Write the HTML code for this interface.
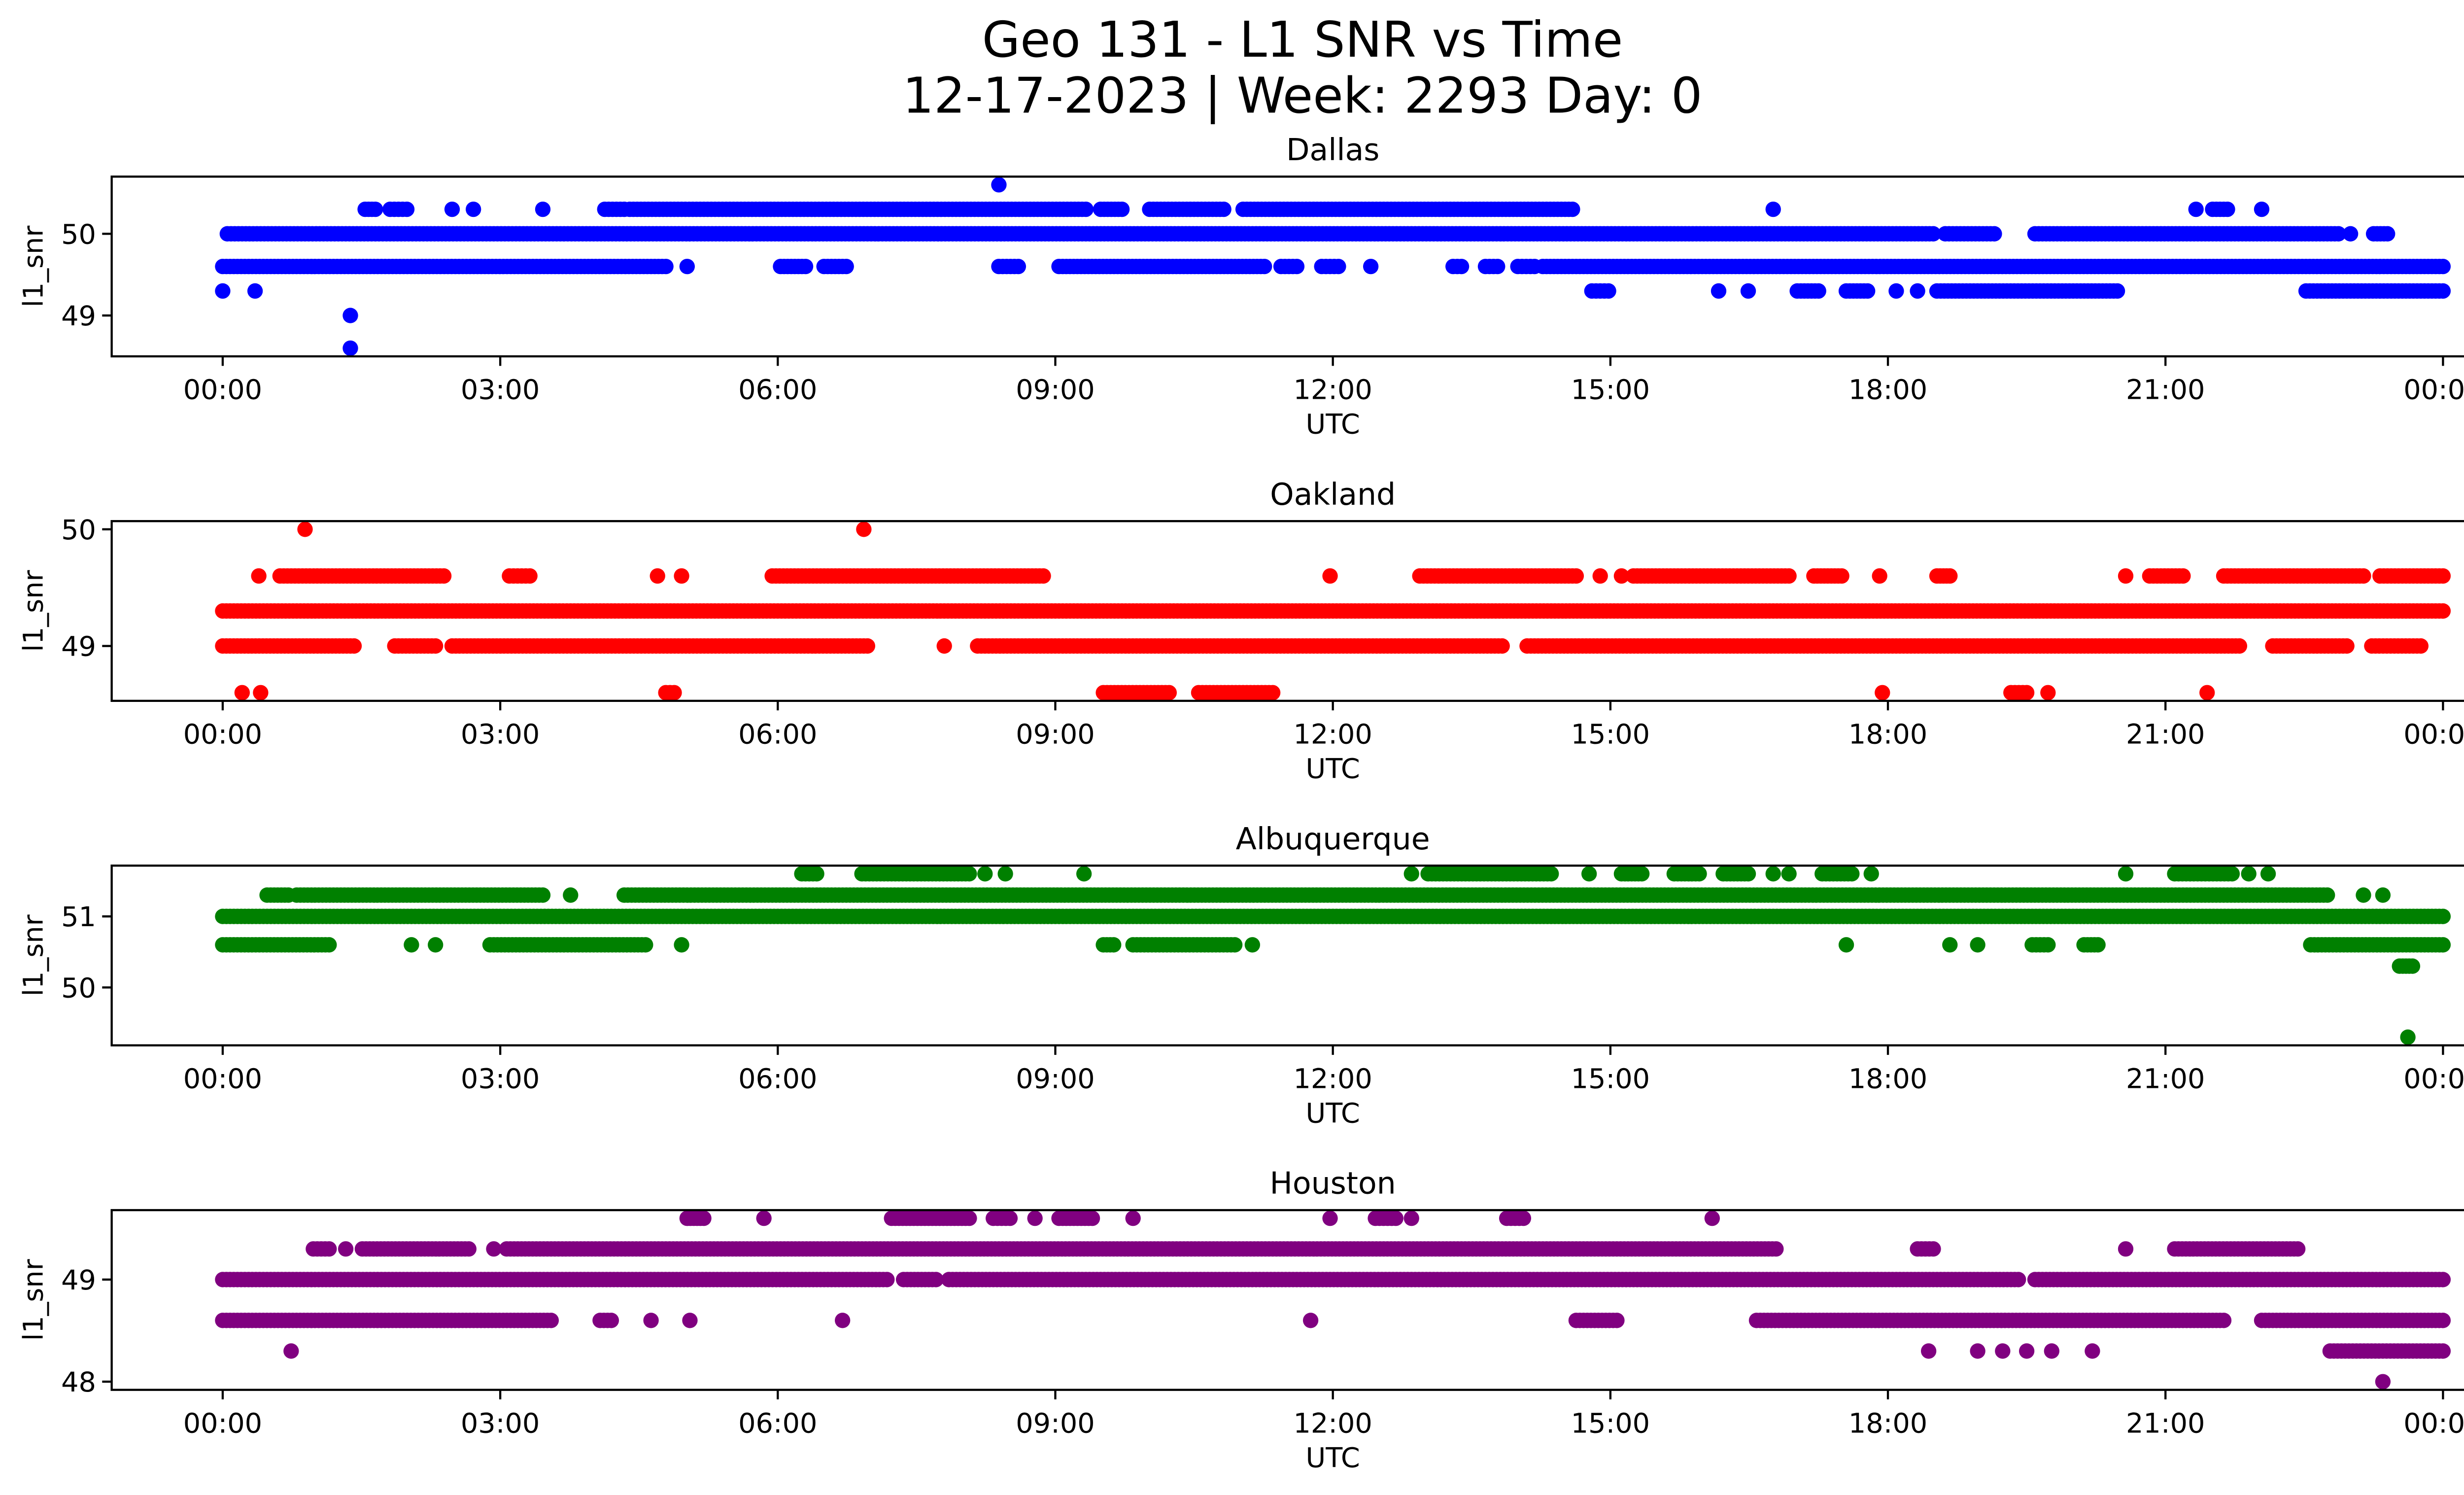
<!DOCTYPE html>
<html><head><meta charset="utf-8"><style>
html,body{margin:0;padding:0;background:#fff}
svg{display:block}
text{font-family:"DejaVu Sans","Liberation Sans",sans-serif;fill:#000}
</style></head><body>
<svg id="fig" xmlns="http://www.w3.org/2000/svg" width="5226" height="3033" viewBox="0 0 1568 910">
<rect width="1568" height="910" fill="#fff"/>
<text x="793" y="34.5" font-size="30" text-anchor="middle">Geo 131 - L1 SNR vs Time</text>
<text x="793" y="68.5" font-size="30" text-anchor="middle">12-17-2023 | Week: 2293 Day: 0</text>
<g id="plots"></g>
</svg>
<script>
// runs: [snr, startHour, endHour]
const dallasRuns = [
[50.6,8.39,8.39],
[50.3,1.54,1.65],[50.3,1.81,1.99],[50.3,2.48,2.48],[50.3,2.71,2.71],[50.3,3.46,3.46],[50.3,4.13,4.34],[50.3,4.40,9.33],[50.3,9.49,9.72],[50.3,10.02,10.82],[50.3,11.03,14.59],[50.3,16.76,16.76],[50.3,21.33,21.33],[50.3,21.51,21.67],[50.3,22.04,22.04],
[50.0,0.05,18.49],[50.0,18.62,19.15],[50.0,19.59,22.87],[50.0,23.0,23.0],[50.0,23.25,23.4],
[49.6,0,4.79],[49.6,5.02,5.02],[49.6,6.03,6.3],[49.6,6.5,6.74],[49.6,8.39,8.6],[49.6,9.04,11.26],[49.6,11.44,11.61],[49.6,11.88,12.06],[49.6,12.41,12.41],[49.6,13.3,13.39],[49.6,13.65,13.78],[49.6,14.0,14.18],[49.6,14.27,24.0],
[49.3,0,0],[49.3,0.35,0.35],[49.3,14.8,14.98],[49.3,16.17,16.17],[49.3,16.49,16.49],[49.3,17.02,17.25],[49.3,17.55,17.78],[49.3,18.09,18.09],[49.3,18.32,18.32],[49.3,18.53,20.48],[49.3,22.52,24.0],
[49.0,1.38,1.38],[48.6,1.38,1.38]
];
const oaklandRuns = [
[50.0,0.89,0.89],[50.0,6.93,6.93],
[49.6,0.39,0.39],[49.6,0.62,2.39],[49.6,3.1,3.32],[49.6,4.7,4.7],[49.6,4.96,4.96],[49.6,5.94,8.87],[49.6,11.97,11.97],[49.6,12.94,14.63],[49.6,14.89,14.89],[49.6,15.12,15.12],[49.6,15.25,16.93],[49.6,17.2,17.5],[49.6,17.91,17.91],[49.6,18.53,18.67],[49.6,20.57,20.57],[49.6,20.83,21.19],[49.6,21.63,23.14],[49.6,23.32,24.0],
[49.3,0,24.0],
[49.0,0,1.42],[49.0,1.86,2.3],[49.0,2.48,6.97],[49.0,7.8,7.8],[49.0,8.16,13.83],[49.0,14.1,21.8],[49.0,22.16,22.96],[49.0,23.23,23.76],
[48.6,0.21,0.21],[48.6,0.41,0.41],[48.6,4.79,4.88],[48.6,9.52,10.23],[48.6,10.55,11.35],[48.6,17.94,17.94],[48.6,19.33,19.5],[48.6,19.73,19.73],[48.6,21.45,21.45]
];
const albuquerqueRuns = [
[51.6,6.26,6.42],[51.6,6.91,8.07],[51.6,8.24,8.24],[51.6,8.46,8.46],[51.6,9.31,9.31],[51.6,12.85,12.85],[51.6,13.03,14.36],[51.6,14.77,14.77],[51.6,15.12,15.34],[51.6,15.69,15.96],[51.6,16.22,16.49],[51.6,16.76,16.76],[51.6,16.93,16.93],[51.6,17.29,17.61],[51.6,17.82,17.82],[51.6,20.57,20.57],[51.6,21.1,21.72],[51.6,21.9,21.9],[51.6,22.11,22.11],
[51.3,0.48,0.71],[51.3,0.8,3.46],[51.3,3.76,3.76],[51.3,4.34,22.75],[51.3,23.14,23.14],[51.3,23.35,23.35],
[51.0,0,24.0],
[50.6,0,1.15],[50.6,2.04,2.04],[50.6,2.3,2.3],[50.6,2.89,4.57],[50.6,4.96,4.96],[50.6,9.52,9.63],[50.6,9.84,10.94],[50.6,11.13,11.13],[50.6,17.55,17.55],[50.6,18.67,18.67],[50.6,18.97,18.97],[50.6,19.56,19.73],[50.6,20.12,20.27],[50.6,22.57,24.0],
[50.3,23.53,23.67],
[49.3,23.62,23.62]
];
const houstonRuns = [
[49.6,5.02,5.2],[49.6,5.85,5.85],[49.6,7.23,8.07],[49.6,8.33,8.51],[49.6,8.78,8.78],[49.6,9.04,9.4],[49.6,9.84,9.84],[49.6,11.97,11.97],[49.6,12.46,12.68],[49.6,12.85,12.85],[49.6,13.88,14.06],[49.6,16.1,16.1],
[49.3,0.98,1.15],[49.3,1.33,1.33],[49.3,1.51,2.66],[49.3,2.93,2.93],[49.3,3.07,16.79],[49.3,18.32,18.49],[49.3,20.57,20.57],[49.3,21.1,22.43],
[49.0,0,7.18],[49.0,7.36,7.71],[49.0,7.85,19.41],[49.0,19.59,24.0],
[48.6,0,3.55],[48.6,4.08,4.2],[48.6,4.63,4.63],[48.6,5.05,5.05],[48.6,6.7,6.7],[48.6,11.76,11.76],[48.6,14.63,15.07],[48.6,16.58,21.63],[48.6,22.04,24.0],
[48.3,0.74,0.74],[48.3,18.44,18.44],[48.3,18.97,18.97],[48.3,19.24,19.24],[48.3,19.5,19.5],[48.3,19.77,19.77],[48.3,20.21,20.21],[48.3,22.78,24.0],
[48.0,23.35,23.35]
];
const xTickHours = [0,3,6,9,12,15,18,21,24];
const xTickLabels = ["00:00","03:00","06:00","09:00","12:00","15:00","18:00","21:00","00:00"];
const dallasTicks = [49,50];
const oaklandTicks = [49,50];
const albuquerqueTicks = [50,51];
const houstonTicks = [48,49];
const stationNames = ["Dallas","Oakland","Albuquerque","Houston"];

const NS="http://www.w3.org/2000/svg";
const plots=document.getElementById('plots');
function mk(tag,attrs,parent){const e=document.createElementNS(NS,tag);for(const k in attrs)e.setAttribute(k,attrs[k]);parent.appendChild(e);return e;}
const X0=68,X1=1555,H=109.4;
const xMin=-1.2,xMax=25.2;
function xs(h){return X0+(h-xMin)/(xMax-xMin)*(X1-X0);}

function drawPanel(idx,name,runs,ticks,color,top){
  const g=mk('g',{},plots);
  
  
  let lo=Infinity,hi=-Infinity;
  runs.forEach(r=>{lo=Math.min(lo,r[0]);hi=Math.max(hi,r[0]);});
  const pad=(hi-lo)*0.05, yMin=lo-pad, yMax=hi+pad;
  const ys=v=>top+H-(v-yMin)/(yMax-yMin)*H;
  const bottom=top+H;
  // points
  const pg=mk('g',{fill:color},g);
  
  
  runs.forEach(r=>{
    const step=0.04;
    const n=Math.max(0,Math.round((r[2]-r[1])/step));
    for(let i=0;i<=n;i++){
      const h=n===0?r[1]:r[1]+(r[2]-r[1])*i/n;
      const c=mk('circle',{cx:xs(h).toFixed(2),cy:ys(r[0]).toFixed(2),r:4.7},pg);
      
      
    }
  });
  const box=mk('rect',{x:X0,y:top,width:X1-X0,height:H,fill:'none',stroke:'#000','stroke-width':1.3},g);
  
  
  // x ticks
  xTickHours.forEach((h,i)=>{
    const x=xs(h);
    mk('line',{x1:x,y1:bottom,x2:x,y2:bottom+5.8,stroke:'#000','stroke-width':1.3},g);
    const t=mk('text',{x:x,y:bottom+26,'font-size':16.7,'text-anchor':'middle'},g);
    t.textContent=xTickLabels[i];
    
    
  });
  // y ticks
  ticks.forEach(v=>{
    const y=ys(v);
    mk('line',{x1:X0-5.8,y1:y,x2:X0,y2:y,stroke:'#000','stroke-width':1.3},g);
    const t=mk('text',{x:X0-9.5,y:y+6,'font-size':16.7,'text-anchor':'end'},g);
    t.textContent=String(v);
    
    
  });
  const xl=mk('text',{x:(X0+X1)/2,y:bottom+47,'font-size':16.7,'text-anchor':'middle'},g);
  xl.textContent='UTC';
  
  
  const yl=mk('text',{x:0,y:0,'font-size':16.7,'text-anchor':'middle',transform:`translate(26,${top+H/2}) rotate(-90)`},g);
  yl.textContent='l1_snr';
  
  
  const tt=mk('text',{x:(X0+X1)/2,y:top-10,'font-size':18.5,'text-anchor':'middle'},g);
  tt.textContent=name;
  
  
}
drawPanel(0,stationNames[0],dallasRuns,dallasTicks,'#0000ff',107.5);
drawPanel(1,stationNames[1],oaklandRuns,oaklandTicks,'#ff0000',317.2);
drawPanel(2,stationNames[2],albuquerqueRuns,albuquerqueTicks,'#008000',526.9);
drawPanel(3,stationNames[3],houstonRuns,houstonTicks,'#800080',736.6);
</script>
</body></html>
